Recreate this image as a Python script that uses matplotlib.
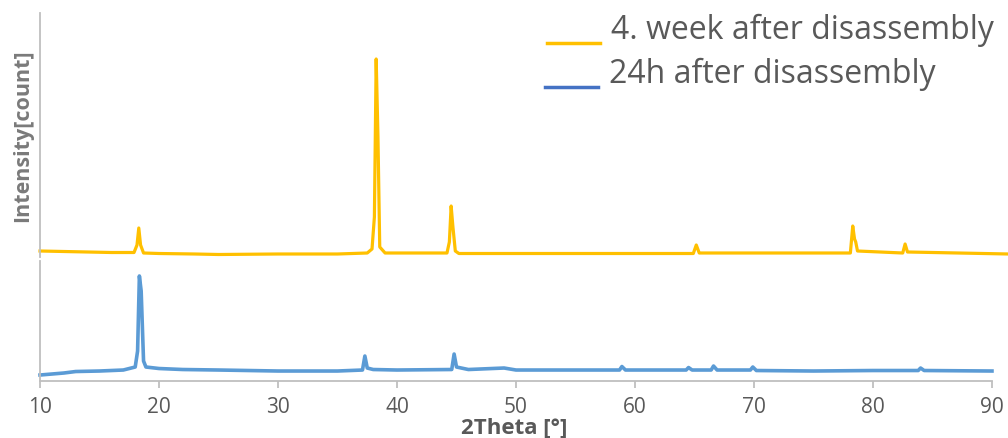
import matplotlib
matplotlib.use("Agg")
import matplotlib.pyplot as plt
from matplotlib.lines import Line2D

plt.rcParams['font.family'] = ['Open Sans', 'DejaVu Sans']

# 4. week after disassembly (top panel)
week_x = [10, 12, 14, 16, 17.9, 18.15, 18.3, 18.45, 18.7, 20, 23, 25, 30, 35, 37.5, 37.9,
          38.1, 38.25, 38.4, 38.55, 39, 44.2, 44.4, 44.55, 44.7, 44.9, 45.2, 64.9, 65.15,
          65.4, 78.1, 78.3, 78.45, 78.55, 78.7, 82.5, 82.7, 82.9, 91.4]
week_y = [60, 55, 50, 45, 45, 120, 290, 120, 40, 35, 30, 25, 30, 30, 40, 80,
          400, 1980, 1200, 100, 40, 40, 150, 510, 300, 60, 35, 35, 120,
          40, 40, 310, 180, 150, 60, 40, 130, 50, 30]

# 24h after disassembly (bottom panel)
h24_x = [10, 11, 12, 13, 15, 17, 18.0, 18.2, 18.35, 18.5, 18.7, 18.9, 20, 22, 25, 30, 35,
         37.1, 37.3, 37.5, 38, 40, 44.6, 44.8, 45.0, 46, 49, 50, 58.7, 58.9, 59.2,
         64.3, 64.5, 64.8, 66.4, 66.6, 66.9, 69.7, 69.9, 70.2, 75, 80, 83.8, 84.0, 84.3, 90]
h24_y = [60, 70, 80, 95, 100, 110, 140, 300, 1050, 900, 200, 140, 125, 115, 110, 100, 100,
         110, 250, 130, 115, 110, 115, 270, 140, 115, 130, 110, 110, 145, 110,
         110, 135, 110, 110, 150, 110, 110, 140, 105, 100, 105, 105, 130, 105, 100]

ticks = [10, 20, 30, 40, 50, 60, 70, 80, 90]
gray = '#bfbfbf'
txt = '#595959'

fig = plt.figure(figsize=(10.08, 4.39), dpi=100)
ax_top = fig.add_axes([0.0397, 0.4123, 0.9444, 0.5558])
ax_bot = fig.add_axes([0.0397, 0.1298, 0.9444, 0.2734])

ax_top.plot(week_x, week_y, color='#FFC000', lw=2.3, clip_on=False, solid_joinstyle='round')
ax_top.set_xlim(10, 90)
ax_top.set_ylim(0, 2440)
for s in ['top', 'right', 'bottom']:
    ax_top.spines[s].set_visible(False)
ax_top.spines['left'].set_color(gray)
ax_top.spines['left'].set_linewidth(1.3)
ax_top.set_xticks([])
ax_top.set_yticks([])
ax_top.patch.set_alpha(0)

ax_bot.plot(h24_x, h24_y, color='#5B9BD5', lw=2.6, clip_on=False, solid_joinstyle='round')
ax_bot.set_xlim(10, 90)
ax_bot.set_ylim(0, 1200)
for s in ['top', 'right']:
    ax_bot.spines[s].set_visible(False)
for s in ['left', 'bottom']:
    ax_bot.spines[s].set_color(gray)
    ax_bot.spines[s].set_linewidth(1.3)
ax_bot.set_yticks([])
ax_bot.set_xticks(ticks)
ax_bot.tick_params(axis='x', colors=gray, length=5, width=1.3, labelsize=15,
                   labelcolor=txt, pad=6)

fig.text(0.022, 0.692, 'Intensity[count]', rotation=90, ha='center', va='center',
         fontsize=15.5, fontweight='bold', color='#7a7a7a')
fig.text(0.51, 0.025, '2Theta [°]', ha='center', va='center',
         fontsize=16, fontweight='bold', color=txt)

# legend
fig.add_artist(Line2D([547 / 1008, 600 / 1008], [1 - 44 / 439, 1 - 44 / 439],
                      color='#FFC000', lw=2.5))
fig.add_artist(Line2D([545 / 1008, 598 / 1008], [1 - 88 / 439, 1 - 88 / 439],
                      color='#4472C4', lw=2.5))
fig.text(611 / 1008, 1 - 30 / 439, '4. week after disassembly', ha='left', va='center',
         fontsize=23, color=txt)
fig.text(609 / 1008, 1 - 74 / 439, '24h after disassembly', ha='left', va='center',
         fontsize=23, color=txt)

fig.savefig('out.png', dpi=100)
